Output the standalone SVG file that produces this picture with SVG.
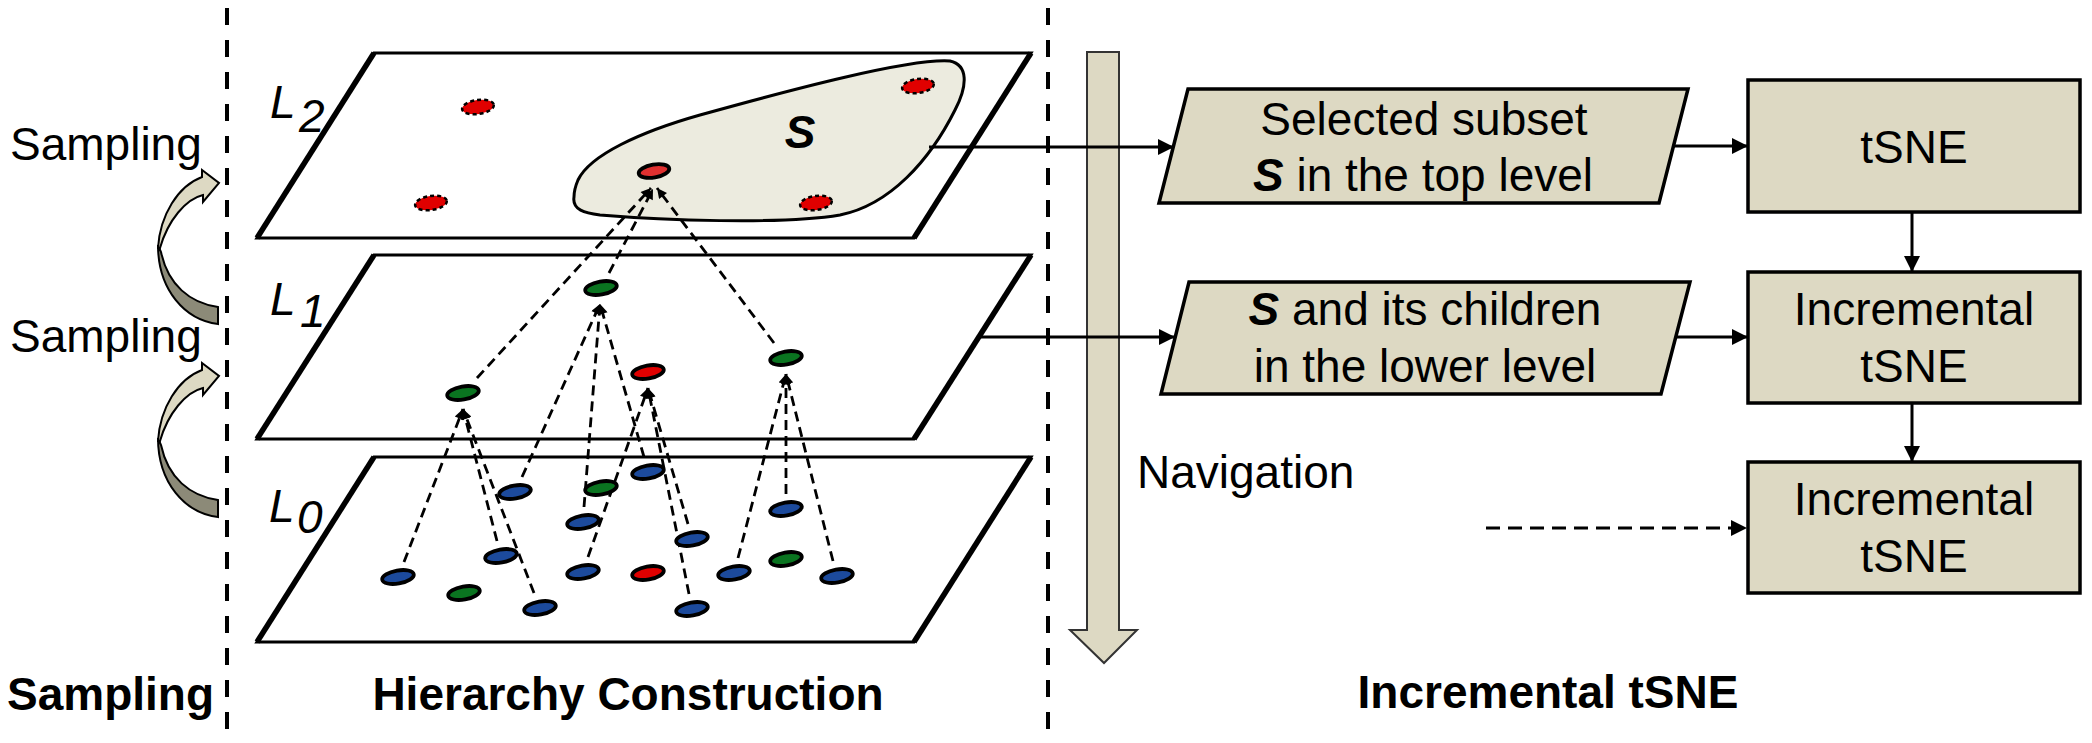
<svg xmlns="http://www.w3.org/2000/svg" width="2092" height="743" viewBox="0 0 2092 743">
<defs>
<style>
.plane{fill:#fff;stroke:#000;stroke-width:3;stroke-linejoin:miter}
.edge{stroke:#000;stroke-width:5.5;fill:none}
.dl{fill:none;stroke:#000;stroke-width:2.8;stroke-dasharray:10 6}
.dot{stroke:#000;stroke-width:3.8}
.b{fill:#1c4a9c}.g{fill:#0a7420}.r{fill:#e00000}
.dd{fill:#e00000;stroke:#000;stroke-width:2.5;stroke-dasharray:4 3}
.box{fill:#ddd9c3;stroke:#000;stroke-width:3.5}
.t{font-family:"Liberation Sans",Arial,sans-serif;font-size:46px;fill:#000}
.tb{font-weight:bold}
.c{text-anchor:middle}
.conn{stroke:#000;stroke-width:3;fill:none}
.div{stroke:#000;stroke-width:4;stroke-dasharray:17 15;fill:none}
.lightA{fill:#ddd9c3;stroke:#000;stroke-width:2}
.darkA{fill:#8c8a78;stroke:#000;stroke-width:2}
</style>
<marker id="ah" viewBox="0 0 10 10" refX="10" refY="5" markerWidth="18" markerHeight="16" markerUnits="userSpaceOnUse" orient="auto"><path d="M0,0 L10,5 L0,10 z" fill="#000"/></marker>
<marker id="sh" viewBox="0 0 10 10" refX="10" refY="5" markerWidth="12" markerHeight="10" markerUnits="userSpaceOnUse" orient="auto"><path d="M0,0 L10,5 L0,10 z" fill="#000"/></marker>
</defs>
<rect width="2092" height="743" fill="#fff"/>

<g id="dividers">
<line class="div" x1="227" y1="8" x2="227" y2="736"/>
<line class="div" x1="1048" y1="8" x2="1048" y2="736"/>
</g>

<g id="sampling-arrows">
<g id="samp-arrow-1">
<path class="darkA" d="M158,245 C158,290 185,320 218,324 L218,307 C190,303 168,285 161,252 Z"/>
<path class="lightA" d="M158,248 C160,215 178,186 202,177 L202,170 L219,183 L203,202 L203,195 C186,199 168,220 160,248 Z"/>
</g>
<g id="samp-arrow-2" transform="translate(0,193)">
<path class="darkA" d="M158,245 C158,290 185,320 218,324 L218,307 C190,303 168,285 161,252 Z"/>
<path class="lightA" d="M158,248 C160,215 178,186 202,177 L202,170 L219,183 L203,202 L203,195 C186,199 168,220 160,248 Z"/>
</g>
<text class="t" x="10" y="160">Sampling</text>
<text class="t" x="10" y="352">Sampling</text>
</g>

<g id="plane-L2">
<polygon class="plane" points="374,53 1031,53 914,238 257,238"/>
<line class="edge" x1="374" y1="53" x2="257" y2="238"/>
<line class="edge" x1="1031" y1="53" x2="914" y2="238"/>
<text class="t" x="270" y="118" font-style="italic" font-size="50">L</text>
<text class="t" x="299" y="132" font-style="italic" font-size="35">2</text>
</g>
<g id="subset-S">
<path d="M574,197 C572,210 585,213 600,215 C660,220 780,225 840,215 C890,205 930,160 955,110 C968,85 968,65 950,61 C910,58 790,90 700,115 C640,132 590,155 578,180 C575,187 574,192 574,197 Z" fill="#ecebdf" stroke="#000" stroke-width="3"/>
<text class="t tb" x="800" y="148" font-style="italic" font-size="44" text-anchor="middle">S</text>
</g>

<g id="plane-L1">
<polygon class="plane" points="374,255 1031,255 914,439 257,439"/>
<line class="edge" x1="374" y1="255" x2="257" y2="439"/>
<line class="edge" x1="1031" y1="255" x2="914" y2="439"/>
<text class="t" x="270" y="315" font-style="italic" font-size="50">L</text>
<text class="t" x="300" y="327" font-style="italic" font-size="35">1</text>
</g>

<g id="plane-L0">
<polygon class="plane" points="374,457 1031,457 914,642 257,642"/>
<line class="edge" x1="374" y1="457" x2="257" y2="642"/>
<line class="edge" x1="1031" y1="457" x2="914" y2="642"/>
<text class="t" x="269" y="522" font-style="italic" font-size="50">L</text>
<text class="t" x="297" y="533" font-style="italic" font-size="35">0</text>
</g>

<g id="hierarchy-links">
<path class="dl" d="M477,378 L651,188" marker-end="url(#sh)"/>
<path class="dl" d="M609,273 L653,189" marker-end="url(#sh)"/>
<path class="dl" d="M774,343 L657,188" marker-end="url(#sh)"/>
<path class="dl" d="M522,477 L600,304" marker-end="url(#sh)"/>
<path class="dl" d="M584,507 L600,304" marker-end="url(#sh)"/>
<path class="dl" d="M644,457 L600,304" marker-end="url(#sh)"/>
<path class="dl" d="M404,562 L463,409" marker-end="url(#sh)"/>
<path class="dl" d="M497,541 L463,409" marker-end="url(#sh)"/>
<path class="dl" d="M534,593 L463,409" marker-end="url(#sh)"/>
<path class="dl" d="M588,557 L648,388" marker-end="url(#sh)"/>
<path class="dl" d="M688,524 L648,388" marker-end="url(#sh)"/>
<path class="dl" d="M689,594 L648,388" marker-end="url(#sh)"/>
<path class="dl" d="M738,558 L786,374" marker-end="url(#sh)"/>
<path class="dl" d="M786,494 L786,374" marker-end="url(#sh)"/>
<path class="dl" d="M833,561 L786,374" marker-end="url(#sh)"/>
</g>

<g id="dots-L2">
<ellipse class="dd" cx="478" cy="107" rx="16" ry="7" transform="rotate(-8 478 107)"/>
<ellipse class="dd" cx="431" cy="203" rx="16" ry="7" transform="rotate(-8 431 203)"/>
<ellipse class="dd" cx="918" cy="86" rx="16" ry="7" transform="rotate(-8 918 86)"/>
<ellipse class="dd" cx="816" cy="203" rx="16" ry="7" transform="rotate(-8 816 203)"/>
<ellipse class="dot" cx="654" cy="171" rx="15.5" ry="6.5" transform="rotate(-10 654 171)" fill="#e03030"/>
</g>

<g id="dots-L1">
<ellipse class="dot g" cx="601" cy="288" rx="16" ry="6.5" transform="rotate(-10 601 288)"/>
<ellipse class="dot g" cx="463" cy="393" rx="16" ry="6.5" transform="rotate(-10 463 393)"/>
<ellipse class="dot r" cx="648" cy="372" rx="16" ry="6.5" transform="rotate(-10 648 372)"/>
<ellipse class="dot g" cx="786" cy="358" rx="16" ry="6.5" transform="rotate(-10 786 358)"/>
</g>

<g id="dots-L0">
<ellipse class="dot b" cx="648" cy="472" rx="16" ry="6.5" transform="rotate(-10 648 472)"/>
<ellipse class="dot g" cx="601" cy="488" rx="16" ry="6.5" transform="rotate(-10 601 488)"/>
<ellipse class="dot b" cx="515" cy="492" rx="16" ry="6.5" transform="rotate(-10 515 492)"/>
<ellipse class="dot b" cx="786" cy="509" rx="16" ry="6.5" transform="rotate(-10 786 509)"/>
<ellipse class="dot b" cx="583" cy="522" rx="16" ry="6.5" transform="rotate(-10 583 522)"/>
<ellipse class="dot b" cx="692" cy="539" rx="16" ry="6.5" transform="rotate(-10 692 539)"/>
<ellipse class="dot b" cx="501" cy="556" rx="16" ry="6.5" transform="rotate(-10 501 556)"/>
<ellipse class="dot b" cx="583" cy="572" rx="16" ry="6.5" transform="rotate(-10 583 572)"/>
<ellipse class="dot r" cx="648" cy="573" rx="16" ry="6.5" transform="rotate(-10 648 573)"/>
<ellipse class="dot b" cx="734" cy="573" rx="16" ry="6.5" transform="rotate(-10 734 573)"/>
<ellipse class="dot g" cx="786" cy="559" rx="16" ry="6.5" transform="rotate(-10 786 559)"/>
<ellipse class="dot b" cx="837" cy="576" rx="16" ry="6.5" transform="rotate(-10 837 576)"/>
<ellipse class="dot b" cx="398" cy="577" rx="16" ry="6.5" transform="rotate(-10 398 577)"/>
<ellipse class="dot g" cx="464" cy="593" rx="16" ry="6.5" transform="rotate(-10 464 593)"/>
<ellipse class="dot b" cx="540" cy="608" rx="16" ry="6.5" transform="rotate(-10 540 608)"/>
<ellipse class="dot b" cx="692" cy="609" rx="16" ry="6.5" transform="rotate(-10 692 609)"/>
</g>

<g id="navigation">
<path d="M1087,52 L1119,52 L1119,630 L1137,630 L1104,663 L1070,630 L1087,630 Z" fill="#ddd9c3" stroke="#333" stroke-width="2"/>
<text class="t" x="1137" y="488">Navigation</text>
</g>

<g id="node-subset-top">
<polygon class="box" points="1188,89 1688,89 1659,203 1159,203"/>
<text class="t c" x="1424" y="135">Selected subset</text>
<text class="t c" x="1423" y="191"><tspan font-weight="bold" font-style="italic">S</tspan> in the top level</text>
</g>
<g id="node-subset-lower">
<polygon class="box" points="1189,282 1690,282 1661,394 1161,394"/>
<text class="t c" x="1425" y="325"><tspan font-weight="bold" font-style="italic">S</tspan> and its children</text>
<text class="t c" x="1425" y="382">in the lower level</text>
</g>
<g id="node-tsne">
<rect class="box" x="1748" y="80" width="332" height="132"/>
<text class="t c" x="1914" y="163">tSNE</text>
</g>
<g id="node-incr-1">
<rect class="box" x="1748" y="272" width="332" height="131"/>
<text class="t c" x="1914" y="325">Incremental</text>
<text class="t c" x="1914" y="382">tSNE</text>
</g>
<g id="node-incr-2">
<rect class="box" x="1748" y="462" width="332" height="131"/>
<text class="t c" x="1914" y="515">Incremental</text>
<text class="t c" x="1914" y="572">tSNE</text>
</g>

<g id="connectors">
<path class="conn" d="M929,147 L1174,147" marker-end="url(#ah)"/>
<path class="conn" d="M979,337 L1175,337" marker-end="url(#ah)"/>
<path class="conn" d="M1674,146 L1748,146" marker-end="url(#ah)"/>
<path class="conn" d="M1676,337 L1748,337" marker-end="url(#ah)"/>
<path class="conn" d="M1912,212 L1912,272" marker-end="url(#ah)"/>
<path class="conn" d="M1912,403 L1912,462" marker-end="url(#ah)"/>
<path class="conn" d="M1486,528 L1747,528" stroke-dasharray="14 8" marker-end="url(#ah)"/>
</g>

<g id="section-labels">
<text class="t tb" x="7" y="710">Sampling</text>
<text class="t tb c" x="628" y="710">Hierarchy Construction</text>
<text class="t tb c" x="1548" y="708">Incremental tSNE</text>
</g>
</svg>
